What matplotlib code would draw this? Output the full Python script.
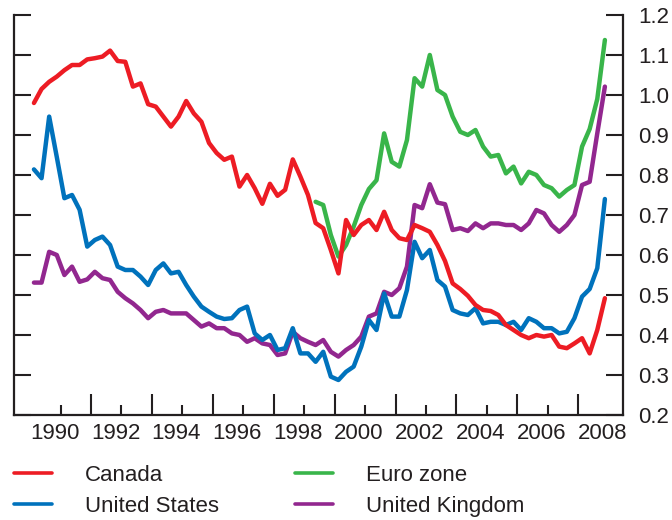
import pandas as pd
import matplotlib.pyplot as plt
import matplotlib.transforms as mtransforms

# quarterly data, 1989Q1 - 2007Q4
quarters = pd.period_range('1989Q1', '2007Q4', freq='Q')
euro_quarters = pd.period_range('1998Q2', '2007Q4', freq='Q')

canada = [0.98, 1.015, 1.033, 1.046, 1.062, 1.075, 1.075, 1.089, 1.092, 1.096,
          1.111, 1.085, 1.083, 1.021, 1.029, 0.977, 0.971, 0.946, 0.921, 0.946,
          0.985, 0.954, 0.933, 0.88, 0.855, 0.838, 0.846, 0.771, 0.80, 0.767,
          0.728, 0.778, 0.748, 0.763, 0.839, 0.796, 0.75, 0.68, 0.667, 0.6125,
          0.554, 0.6875, 0.65, 0.675, 0.6875, 0.6625, 0.708, 0.6625, 0.642, 0.6375,
          0.675, 0.667, 0.658, 0.625, 0.585, 0.529, 0.515, 0.498, 0.475, 0.4625,
          0.46, 0.45, 0.425, 0.4125, 0.40, 0.392, 0.40, 0.396, 0.40, 0.371,
          0.367, 0.379, 0.392, 0.354, 0.4125, 0.492]

united_states = [0.814, 0.792, 0.946, 0.845, 0.742, 0.75, 0.713, 0.621, 0.6375, 0.646,
                 0.625, 0.571, 0.5625, 0.5625, 0.546, 0.525, 0.5625, 0.579, 0.554, 0.558,
                 0.525, 0.496, 0.471, 0.458, 0.446, 0.44, 0.442, 0.4625, 0.471, 0.404,
                 0.3875, 0.40, 0.3625, 0.367, 0.417, 0.354, 0.354, 0.333, 0.358, 0.296,
                 0.2875, 0.308, 0.321, 0.371, 0.4375, 0.4125, 0.504, 0.446, 0.446, 0.5125,
                 0.633, 0.592, 0.6125, 0.5375, 0.521, 0.4625, 0.454, 0.45, 0.467, 0.429,
                 0.433, 0.433, 0.425, 0.433, 0.4125, 0.442, 0.433, 0.417, 0.417, 0.404,
                 0.408, 0.442, 0.496, 0.515, 0.567, 0.74]

united_kingdom = [0.531, 0.531, 0.608, 0.60, 0.55, 0.571, 0.533, 0.539, 0.558, 0.542,
                  0.5375, 0.508, 0.492, 0.479, 0.4625, 0.442, 0.458, 0.4625, 0.454, 0.454,
                  0.454, 0.4375, 0.421, 0.429, 0.417, 0.417, 0.404, 0.40, 0.383, 0.392,
                  0.379, 0.375, 0.35, 0.354, 0.408, 0.392, 0.383, 0.375, 0.3875, 0.358,
                  0.346, 0.3625, 0.375, 0.396, 0.446, 0.454, 0.508, 0.50, 0.517, 0.571,
                  0.725, 0.717, 0.777, 0.731, 0.727, 0.6625, 0.667, 0.66, 0.679, 0.667,
                  0.679, 0.679, 0.675, 0.675, 0.6625, 0.679, 0.7125, 0.704, 0.675, 0.658,
                  0.675, 0.70, 0.775, 0.783, 0.904, 1.021]

euro_zone = [0.733, 0.725, 0.65, 0.596, 0.625, 0.671, 0.725, 0.765, 0.787, 0.904,
             0.833, 0.821, 0.8875, 1.042, 1.021, 1.10, 1.0125, 1.0, 0.946, 0.908,
             0.90, 0.9125, 0.871, 0.846, 0.85, 0.804, 0.821, 0.779, 0.808, 0.80,
             0.775, 0.767, 0.746, 0.7625, 0.775, 0.871, 0.915, 0.99, 1.1375]

labelled_years = list(range(1990, 2010, 2))
odd_years = list(range(1991, 2009, 2))

RED = '#ED1C24'
BLUE = '#0072BC'
GREEN = '#39B54A'
PURPLE = '#92278F'
INK = '#231F20'

plt.rcParams['font.family'] = ['Liberation Sans', 'DejaVu Sans']
plt.rcParams['font.size'] = 16

x = quarters.year + (quarters.quarter - 0.5) / 4
x_euro = euro_quarters.year + (euro_quarters.quarter - 0.5) / 4

fig = plt.figure(figsize=(6.72, 5.2), dpi=100)
ax = fig.add_axes([14 / 672, 105 / 520, (622.7 - 14) / 672, 400 / 520])

style = dict(lw=3.2, solid_capstyle='round', solid_joinstyle='round')
ax.plot(x, united_kingdom, color=PURPLE, label='United Kingdom', **style)
ax.plot(x_euro, euro_zone, color=GREEN, label='Euro zone', **style)
ax.plot(x, united_states, color=BLUE, label='United States', **style)
ax.plot(x, canada, color=RED, label='Canada', **style)

ax.set_xlim(1988.47, 2008.46)
ax.set_ylim(0.2, 1.2)

ax.spines['top'].set_visible(False)
for side in ['left', 'right', 'bottom']:
    ax.spines[side].set_linewidth(1.6)
    ax.spines[side].set_color(INK)

# y axis: ticks on both sides pointing in, labels on the right
ax.set_yticks([0.2 + 0.1 * k for k in range(11)])
ax.set_yticklabels(['%.1f' % (0.2 + 0.1 * k) for k in range(11)])
ax.tick_params(axis='y', left=True, right=True, labelleft=False, labelright=True,
               direction='in', length=12, width=1.5, pad=11, colors=INK)

# x axis: long ticks at odd years, short ticks + labels at even years
ax.set_xticks(odd_years)
ax.set_xticklabels([])
ax.set_xticks(labelled_years, minor=True)
ax.set_xticklabels([str(y) for y in labelled_years], minor=True)
ax.tick_params(axis='x', which='major', direction='in', length=15, width=1.5,
               top=False, colors=INK)
ax.tick_params(axis='x', which='minor', direction='in', length=7.5, width=1.5,
               top=False, pad=6, colors=INK)
ax.xaxis.get_minor_ticks()[-1].tick1line.set_visible(False)
shift = mtransforms.ScaledTranslation(-0.06, 0, fig.dpi_scale_trans)
for lab in ax.get_xticklabels(minor=True):
    lab.set_transform(lab.get_transform() + shift)

handles, labels = ax.get_legend_handles_labels()
order = [3, 2, 1, 0]
leg = fig.legend([handles[i] for i in order], [labels[i] for i in order],
                 ncol=2, loc='upper left', bbox_to_anchor=(14 / 672, 1 - 465 / 520),
                 frameon=False, borderpad=0, borderaxespad=0,
                 handlelength=1.71, handletextpad=1.49, columnspacing=3.4,
                 labelspacing=0.45)
for line in leg.get_lines():
    line.set_linewidth(2.6)
for t in leg.get_texts():
    t.set_color(INK)

fig.savefig('out.png', dpi=100)
